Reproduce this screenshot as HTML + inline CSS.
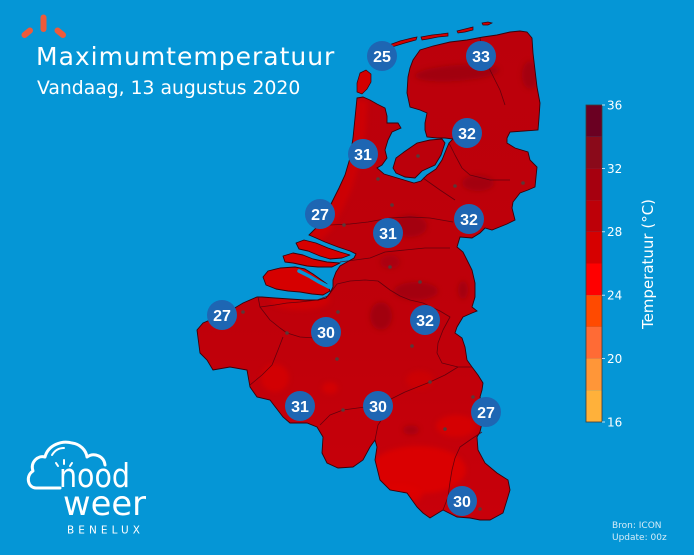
<!DOCTYPE html>
<html>
<head>
<meta charset="utf-8">
<style>
  html,body{margin:0;padding:0;background:#0596d6;}
  svg{display:block;}
</style>
</head>
<body>
<svg width="694" height="555" viewBox="0 0 694 555" xmlns="http://www.w3.org/2000/svg">
  <defs>
    <polygon id="mainpoly" points="357,98 363,97 370,100 377,104 385,108 387,116 387,123 398,123 401,128 392,132 388,140 385,150 387,158 382,165 377,168 384,174 394,177 404,180 414,183 421,181 427,175 436,169 442,160 446,150 449,143 453,139 445,138 437,138 427,137 425,130 425,123 427,113 420,110 410,107 407,93 408,77 410,68 413,60 420,50 433,46 450,42 467,40 483,37 497,35 510,32 520,31 527,32 532,38 533,53 535,70 537,87 540,103 539,118 538,130 524,131 510,132 507,138 507,143 515,148 528,152 530,160 537,167 536,177 535,187 528,190 520,193 513,202 512,208 515,220 507,224 492,230 485,228 480,233 472,238 460,237 457,247 463,252 467,260 472,270 475,283 475,297 472,307 477,311 472,313 463,317 457,327 455,333 462,338 465,347 467,360 472,367 478,375 483,383 482,390 480,397 483,407 482,423 480,432 477,437 478,450 485,463 497,473 508,480 510,490 507,500 503,513 490,520 480,520 470,518 457,517 443,510 430,518 423,513 417,507 407,493 390,490 380,480 375,460 377,447 375,440 370,447 363,460 353,467 338,468 327,463 322,453 323,437 317,427 307,423 290,423 283,417 270,400 257,397 250,387 247,370 230,367 213,370 207,360 200,353 197,330 203,323 210,320 223,315 243,303 257,297 262,297 275,298 290,299 305,300 318,300 326,298 330,293 333,287 333,280 336,272 340,266 347,262 354,258 356,254 350,251 338,247 325,242 316,238 309,235 316,228 322,220 328,210 333,200 339,188 345,175 350,158 353,138 355,118"/>
    <polygon id="flevo" points="393,168 396,158 404,152 417,143 430,140 442,139 445,143 441,155 435,165 422,171 415,178 405,177 396,173"/>
    <clipPath id="land">
      <use href="#mainpoly"/>
      <use href="#flevo"/>
    </clipPath>
    <filter id="blur" x="-20%" y="-20%" width="140%" height="140%">
      <feGaussianBlur stdDeviation="2.5"/>
    </filter>
    <linearGradient id="landgrad" x1="0" y1="0" x2="0" y2="1">
      <stop offset="0" stop-color="#bb000b"/>
      <stop offset="0.6" stop-color="#bf000a"/>
      <stop offset="1" stop-color="#c8000a"/>
    </linearGradient>
  </defs>

  <rect x="0" y="0" width="694" height="555" fill="#0596d6"/>

  <!-- Land base -->
  <use href="#mainpoly" fill="url(#landgrad)"/>
  <use href="#flevo" fill="#bb000b"/>

  <!-- Patches clipped to land -->
  <g clip-path="url(#land)">
    <g filter="url(#blur)">
      <!-- brighter areas -->
      <path d="M360,100 L358,130 L352,160 L345,185 L336,205 L325,225 L312,238" stroke="#d80000" stroke-width="16" fill="none" opacity="0.55"/>
      <ellipse cx="300" cy="300" rx="30" ry="10" fill="#d80000" opacity="0.6"/>
      <ellipse cx="418" cy="470" rx="48" ry="24" fill="#dc0000" opacity="0.9"/>
      <ellipse cx="400" cy="495" rx="22" ry="10" fill="#de0000" opacity="0.8"/>
      <ellipse cx="456" cy="426" rx="20" ry="11" fill="#da0000" opacity="0.8"/>
      <ellipse cx="275" cy="378" rx="14" ry="14" fill="#d80000" opacity="0.7"/>
      <ellipse cx="330" cy="388" rx="8" ry="6" fill="#d80000" opacity="0.7"/>
      <ellipse cx="420" cy="380" rx="14" ry="9" fill="#d20000" opacity="0.6"/>
      <!-- darker areas -->
      <ellipse cx="457" cy="73" rx="42" ry="8" fill="#98000f" opacity="0.75" transform="rotate(-4 457 73)"/>
      <ellipse cx="530" cy="75" rx="8" ry="14" fill="#98000f" opacity="0.7"/>
      <ellipse cx="478" cy="183" rx="16" ry="8" fill="#98000f" opacity="0.7"/>
      <ellipse cx="410" cy="226" rx="17" ry="11" fill="#98000f" opacity="0.7"/>
      <ellipse cx="381" cy="316" rx="11" ry="14" fill="#98000f" opacity="0.75"/>
      <ellipse cx="416" cy="291" rx="22" ry="9" fill="#98000f" opacity="0.7"/>
      <ellipse cx="463" cy="290" rx="5" ry="9" fill="#98000f" opacity="0.7"/>
      <ellipse cx="411" cy="430" rx="8" ry="5" fill="#98000f" opacity="0.6"/>
      <ellipse cx="390" cy="262" rx="10" ry="7" fill="#98000f" opacity="0.5"/>
    </g>
  </g>

  <!-- Zeeland / South Holland islands -->
  <g fill="#d60000" stroke="#3a000a" stroke-width="0.9" stroke-linejoin="round">
    <polygon points="296,243 304,240 316,243 328,248 340,252 350,255 342,258 330,259 320,256 308,251 299,249"/>
    <polygon points="283,256 293,253 303,255 313,259 327,262 340,263 332,267 318,267 307,266 293,263 285,262"/>
    <polygon points="263,277 268,271 280,268 295,267 305,269 313,274 320,279 327,284 330,291 323,295 312,294 300,292 288,291 276,289 266,285"/>
  </g>
  <path d="M299,271 L309,276 L319,282 L329,287" fill="none" stroke="#0596d6" stroke-width="3.5" stroke-linecap="round"/>

  <!-- Coastline outline -->
  <use href="#mainpoly" fill="none" stroke="#3a000a" stroke-width="0.9"/>
  <use href="#flevo" fill="none" stroke="#3a000a" stroke-width="0.9"/>

  <!-- Wadden islands -->
  <g fill="#d40000" stroke="#3a000a" stroke-width="0.7">
    <polygon points="360,73 366,70 371,74 371,82 367,89 362,94 357,92 357,83"/>
    <polygon points="389,45 400,41 412,38 417,37 416,40 405,43 392,47"/>
    <polygon points="421,37 432,35 441,34 448,33 448,36 438,37 428,39 422,40"/>
    <polygon points="457,31 465,29 473,27 473,30 465,32 458,33"/>
    <polygon points="482,23 488,22 492,23 488,25 483,25"/>
  </g>

  <!-- Internal borders -->
  <g fill="none" stroke="#55000f" stroke-width="0.8" opacity="0.85" stroke-linejoin="round">
    <path d="M258,297 L260,307 L275,305 L287,303 L300,302 L317,300 L328,296 L337,284 L350,281 L365,280 L378,281 L390,290 L400,296 L410,300 L423,303 L440,311 L450,317 L443,330 L438,343 L437,353 L442,363 L458,367 L472,367"/>
    <path d="M458,367 L445,375 L430,382 L405,392 L385,402 L365,407 L343,410 L330,415 L320,425"/>
    <path d="M260,307 L270,320 L280,328 L287,333 L300,337 L315,338 L325,340"/>
    <path d="M283,337 L278,350 L272,365 L262,375 L250,385"/>
    <path d="M482,432 L470,440 L460,447 L455,458 L452,470 L450,482 L448,497 L443,510"/>
    <path d="M375,440 L378,425 L388,410"/>
    <path d="M330,225 L350,224 L368,222 L390,218 L410,217 L430,218 L453,222"/>
    <path d="M340,262 L355,260 L370,258 L385,252 L405,250 L425,248 L450,248"/>
    <path d="M449,143 L455,155 L462,168 L470,175 L490,180 L510,180"/>
    <path d="M423,178 L440,190 L455,200"/>
    <path d="M480,38 L484,55 L490,70 L500,90 L505,105"/>
  </g>

  <!-- City dots -->
  <g fill="#5a3838">
    <circle cx="378" cy="179" r="1.8"/>
    <circle cx="418" cy="156" r="1.8"/>
    <circle cx="455" cy="186" r="1.8"/>
    <circle cx="392" cy="205" r="1.8"/>
    <circle cx="344" cy="225" r="1.8"/>
    <circle cx="523" cy="183" r="1.8"/>
    <circle cx="243" cy="312" r="1.8"/>
    <circle cx="287" cy="333" r="1.8"/>
    <circle cx="338" cy="312" r="1.8"/>
    <circle cx="337" cy="359" r="1.8"/>
    <circle cx="412" cy="346" r="1.8"/>
    <circle cx="420" cy="282" r="1.8"/>
    <circle cx="390" cy="267" r="1.8"/>
    <circle cx="430" cy="382" r="1.8"/>
    <circle cx="343" cy="410" r="1.8"/>
    <circle cx="445" cy="429" r="1.8"/>
    <circle cx="473" cy="397" r="1.8"/>
    <circle cx="480" cy="509" r="1.8"/>
  </g>

  <!-- Temperature circles -->
  <g fill="#1e66b3">
    <circle cx="382" cy="56" r="15"/>
    <circle cx="481" cy="56" r="15"/>
    <circle cx="467" cy="133" r="15"/>
    <circle cx="363" cy="154" r="15"/>
    <circle cx="320" cy="214" r="15"/>
    <circle cx="388" cy="233" r="15"/>
    <circle cx="469" cy="219" r="15"/>
    <circle cx="222" cy="315" r="15"/>
    <circle cx="326" cy="332" r="15"/>
    <circle cx="425" cy="320" r="15"/>
    <circle cx="300" cy="406" r="15"/>
    <circle cx="378" cy="406" r="15"/>
    <circle cx="486" cy="412" r="15"/>
    <circle cx="462" cy="501" r="15"/>
  </g>
  <g fill="#ffffff" font-family="'Liberation Sans', 'DejaVu Sans', sans-serif" font-size="16" font-weight="bold" text-anchor="middle">
    <text x="382" y="61.8">25</text>
    <text x="481" y="61.8">33</text>
    <text x="467" y="138.8">32</text>
    <text x="363" y="159.8">31</text>
    <text x="320" y="219.8">27</text>
    <text x="388" y="238.8">31</text>
    <text x="469" y="224.8">32</text>
    <text x="222" y="320.8">27</text>
    <text x="326" y="337.8">30</text>
    <text x="425" y="325.8">32</text>
    <text x="300" y="411.8">31</text>
    <text x="378" y="411.8">30</text>
    <text x="486" y="417.8">27</text>
    <text x="462" y="506.8">30</text>
  </g>

  <!-- Title icon -->
  <g stroke="#ef5a3a" stroke-width="6" stroke-linecap="round" fill="none">
    <line x1="24.5" y1="35" x2="30" y2="30.5"/>
    <line x1="43.5" y1="17.5" x2="43.5" y2="29"/>
    <line x1="57.5" y1="30.5" x2="63" y2="35"/>
  </g>

  <!-- Title -->
  <text x="36" y="65" fill="#ffffff" font-family="'DejaVu Sans', 'Liberation Sans', sans-serif" font-size="25" letter-spacing="1">Maximumtemperatuur</text>
  <text x="37" y="94" fill="#ffffff" font-family="'DejaVu Sans', 'Liberation Sans', sans-serif" font-size="18.8">Vandaag, 13 augustus 2020</text>

  <!-- Colorbar -->
  <g>
    <rect x="586" y="105" width="16" height="31.7" fill="#6a0022"/>
    <rect x="586" y="136.7" width="16" height="31.7" fill="#8a0a1a"/>
    <rect x="586" y="168.4" width="16" height="31.7" fill="#a6000f"/>
    <rect x="586" y="200.1" width="16" height="31.7" fill="#bd0008"/>
    <rect x="586" y="231.8" width="16" height="31.7" fill="#d60000"/>
    <rect x="586" y="263.5" width="16" height="31.7" fill="#ff0000"/>
    <rect x="586" y="295.2" width="16" height="31.7" fill="#ff4a00"/>
    <rect x="586" y="326.9" width="16" height="31.7" fill="#ff6b35"/>
    <rect x="586" y="358.6" width="16" height="31.7" fill="#ff9638"/>
    <rect x="586" y="390.3" width="16" height="31.7" fill="#ffb13a"/>
    <rect x="586" y="105" width="16" height="317" fill="none" stroke="#3c3c3c" stroke-width="0.8"/>
    <g stroke="#e8f4fb" stroke-width="0.8">
      <line x1="602" y1="105" x2="605" y2="105"/>
      <line x1="602" y1="168.4" x2="605" y2="168.4"/>
      <line x1="602" y1="231.8" x2="605" y2="231.8"/>
      <line x1="602" y1="295.2" x2="605" y2="295.2"/>
      <line x1="602" y1="358.6" x2="605" y2="358.6"/>
      <line x1="602" y1="422" x2="605" y2="422"/>
    </g>
    <g fill="#ffffff" font-family="'DejaVu Sans', 'Liberation Sans', sans-serif" font-size="12">
      <text x="607" y="109.4">36</text>
      <text x="607" y="172.8">32</text>
      <text x="607" y="236.2">28</text>
      <text x="607" y="299.6">24</text>
      <text x="607" y="363">20</text>
      <text x="607" y="426.4">16</text>
    </g>
    <text transform="translate(653,264) rotate(-90)" text-anchor="middle" fill="#ffffff" font-family="'DejaVu Sans', 'Liberation Sans', sans-serif" font-size="15">Temperatuur (°C)</text>
  </g>

  <!-- Logo -->
  <g fill="none" stroke="#ffffff" stroke-width="3" stroke-linecap="round" stroke-linejoin="round">
    <path d="M60,488 L36,488 C28,488 25,476 33,471 C30,462 38,455 45,457 C48,445 62,440 72,443 C80,444 86,450 87,457 C94,452 104,456 105,465"/>
    <path d="M52,455 C55,450 59,448 64,448" stroke-width="2"/>
    <line x1="56" y1="463" x2="58" y2="466" stroke-width="2"/>
    <line x1="64" y1="460" x2="64" y2="464" stroke-width="2"/>
    <line x1="72" y1="463" x2="70" y2="466" stroke-width="2"/>
  </g>
  <g fill="#ffffff" font-family="'DejaVu Sans', 'Liberation Sans', sans-serif">
    <text x="59" y="487" font-size="33" textLength="71" lengthAdjust="spacingAndGlyphs">nood</text>
    <text x="63" y="515" font-size="34" textLength="83" lengthAdjust="spacingAndGlyphs">weer</text>
    <text x="67" y="533.5" font-size="10.5" textLength="73" lengthAdjust="spacing">BENELUX</text>
  </g>

  <!-- Source -->
  <g fill="#d6ecf8" font-family="'DejaVu Sans', 'Liberation Sans', sans-serif" font-size="9">
    <text x="612" y="528">Bron: ICON</text>
    <text x="612" y="540">Update: 00z</text>
  </g>
</svg>
</body>
</html>
